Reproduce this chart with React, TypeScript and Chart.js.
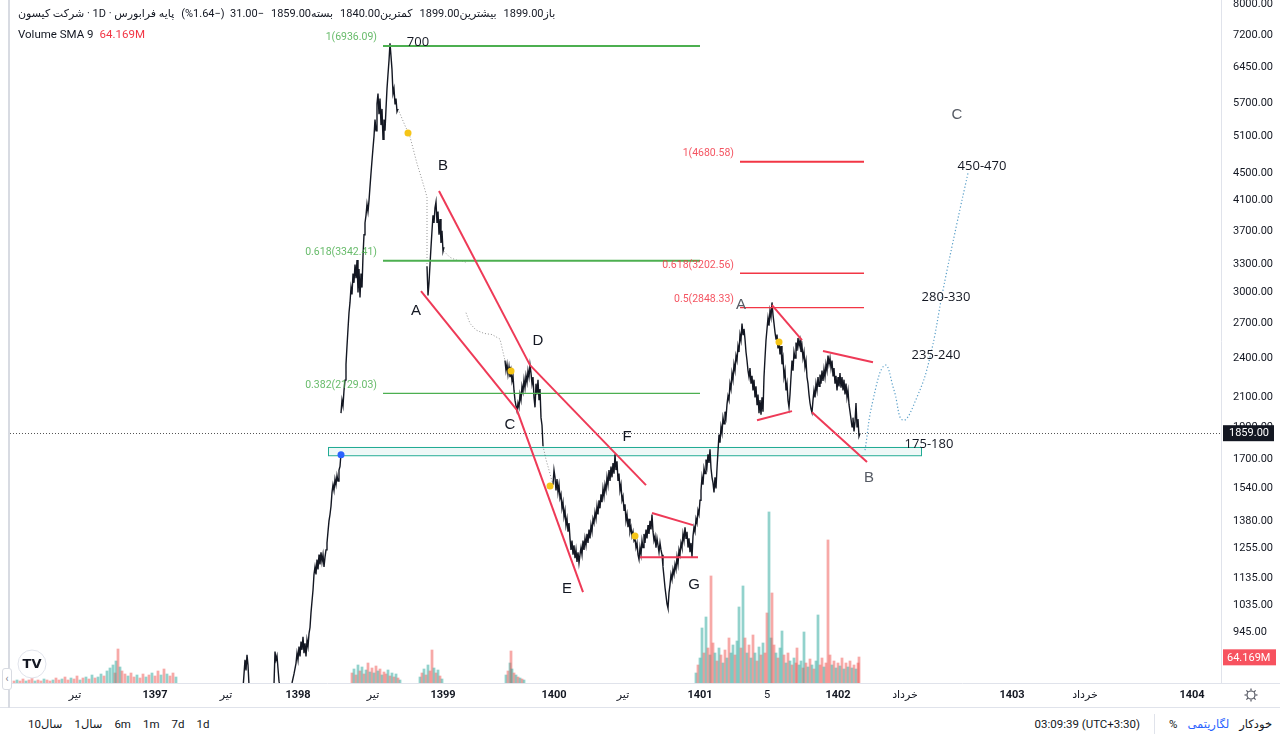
import React, { useEffect, useRef } from "react";
import { Chart, registerables } from "chart.js";

Chart.register(...registerables);

const FONT = "Roboto, 'DejaVu Sans', sans-serif";
const TEXT = "#131722";

// ---------- header texts ----------
const headerOhlc = ["باز1899.00", "بیشترین1899.00", "کمترین1840.00", "بسته1859.00"];
const headerChange = "(%1.64−)  31.00−";
const headerSymbol = "پایه فرابورس · 1D · شرکت کیسون";
const volumeLegend = "Volume SMA 9";
const volumeLegendValue = "64.169M";
const rangeButtons = ["10سال", "1سال", "6m", "1m", "7d", "1d"];
const clockText = "03:09:39 (UTC+3:30)";

// ---------- axes ----------
const yTicks = [8000, 7200, 6450, 5700, 5100, 4500, 4100, 3700, 3300, 3000, 2700, 2400, 2100, 1900, 1700, 1540, 1380, 1255, 1135, 1035, 945];
const xTickPos = [75, 155, 226, 298, 373, 443, 554, 623, 700, 767, 838, 905, 1012, 1085, 1192];
const xTickLabels = ["تیر", "1397", "تیر", "1398", "تیر", "1399", "1400", "تیر", "1401", "5", "1402", "خرداد", "1403", "خرداد", "1404"];
const xRange = [10, 1221];
const priceRange = [795, 8110];
const volRange = [0, 1707];

// ---------- price (bar index, price) ----------
const rally98a: [number, number][] = [[243, 780], [245, 860], [246, 830], [247, 875], [248, 845], [249, 790]];
const rally98b: [number, number][] = [[274, 790], [275, 885], [276, 860], [277, 872], [278, 835], [279, 800], [280, 785]];
const rally98c: [number, number][] = [[290, 780], [292, 795], [294, 820], [296, 850], [297, 880], [298, 860], [299, 900], [300, 870], [301, 915], [302, 890], [303, 930], [304, 880], [305, 910], [306, 870], [307, 920], [308, 900], [309, 940], [310, 960], [311, 1010], [312, 1050], [313, 1090], [314, 1150], [315, 1180], [316, 1150], [317, 1210], [318, 1170], [319, 1230], [320, 1190], [321, 1240], [322, 1200], [323, 1230], [324, 1180], [325, 1220], [326, 1250], [327, 1280], [328, 1330], [329, 1380], [330, 1410], [331, 1450], [332, 1520], [333, 1560], [334, 1530], [335, 1590], [336, 1560], [337, 1610], [338, 1580], [339, 1640], [340, 1660], [341, 1735]];
const rally98d: [number, number][] = [[341, 1990], [342, 2080], [343, 2040], [344, 2150], [345, 2227], [346, 2350], [347, 2500], [348, 2650], [349, 2800], [350, 2900], [351, 3050], [352, 2980], [353, 3200], [354, 3100], [355, 3300], [356, 3150], [357, 3350], [358, 3000], [359, 3250], [360, 2950], [361, 3200], [362, 3050], [363, 3400], [364, 3650], [365, 3800], [366, 3900], [367, 4050], [368, 3950], [369, 4100], [370, 4300], [371, 4500], [372, 4700], [373, 4900], [374, 5100], [375, 5400], [376, 5200], [377, 5700], [378, 5900], [379, 5500], [380, 5800], [381, 5300], [382, 5600], [383, 5050], [384, 5400], [385, 5200], [386, 5600], [387, 6000], [388, 6300], [389, 6600], [390, 7000], [391, 6700], [392, 6400], [393, 5900], [394, 6000], [395, 5700], [396, 5800], [397, 5550], [398, 5600]];
const swingAB: [number, number][] = [[427, 3280], [428, 2970], [429, 3100], [430, 3300], [431, 3500], [432, 3700], [433, 3900], [434, 3800], [435, 4000], [436, 4080], [437, 3800], [438, 3950], [439, 3650], [440, 3850], [441, 3550], [442, 3700], [443, 3450], [444, 3500]];
const swingCD: [number, number][] = [[505, 2380], [506, 2300], [507, 2350], [508, 2270], [509, 2330], [510, 2250], [511, 2300], [512, 2220], [513, 2260], [514, 2150], [515, 2080], [516, 2040], [517, 2005], [518, 2060], [519, 2030], [520, 2120], [521, 2080], [522, 2180], [523, 2140], [524, 2230], [525, 2170], [526, 2260], [527, 2210], [528, 2300], [529, 2250], [530, 2345], [531, 2280], [532, 2200], [533, 2250], [534, 2100], [535, 2030], [536, 2200], [537, 2120], [538, 2230], [539, 2080], [540, 2160], [541, 1960], [542, 1910], [543, 1780]];
const swingEFG: [number, number][] = [[553, 1560], [554, 1640], [555, 1600], [556, 1530], [557, 1590], [558, 1520], [559, 1560], [560, 1490], [561, 1510], [562, 1440], [563, 1470], [564, 1400], [565, 1430], [566, 1360], [567, 1390], [568, 1330], [569, 1370], [570, 1300], [571, 1250], [572, 1290], [573, 1230], [574, 1270], [575, 1215], [576, 1250], [577, 1200], [578, 1240], [579, 1195], [580, 1230], [581, 1260], [582, 1230], [583, 1290], [584, 1250], [585, 1300], [586, 1270], [587, 1320], [588, 1280], [589, 1340], [590, 1300], [591, 1360], [592, 1330], [593, 1390], [594, 1370], [595, 1420], [596, 1390], [597, 1450], [598, 1410], [599, 1480], [600, 1440], [601, 1510], [602, 1470], [603, 1540], [604, 1500], [605, 1560], [606, 1530], [607, 1600], [608, 1560], [609, 1640], [610, 1580], [611, 1660], [612, 1600], [613, 1680], [614, 1620], [615, 1730], [616, 1640], [617, 1690], [618, 1580], [619, 1620], [620, 1530], [621, 1560], [622, 1480], [623, 1500], [624, 1430], [625, 1460], [626, 1380], [627, 1410], [628, 1350], [629, 1390], [630, 1330], [631, 1350], [632, 1310], [633, 1330], [634, 1290], [635, 1300], [636, 1260], [637, 1280], [638, 1230], [639, 1210], [640, 1260], [641, 1230], [642, 1290], [643, 1260], [644, 1320], [645, 1280], [646, 1340], [647, 1300], [648, 1360], [649, 1320], [650, 1380], [651, 1340], [652, 1410], [653, 1330], [654, 1290], [655, 1310], [656, 1260], [657, 1300], [658, 1270], [659, 1240], [660, 1280], [661, 1250], [662, 1230], [663, 1180], [664, 1140], [665, 1100], [666, 1070], [667, 1040], [668, 1025], [669, 1080], [670, 1110], [671, 1150], [672, 1130], [673, 1170], [674, 1150], [675, 1190], [676, 1170], [677, 1220], [678, 1190], [679, 1250], [680, 1230], [681, 1280], [682, 1260], [683, 1320], [684, 1290], [685, 1350], [686, 1300], [687, 1330], [688, 1260], [689, 1300], [690, 1240], [691, 1280], [692, 1220], [693, 1310], [694, 1350], [695, 1330], [696, 1390], [697, 1370], [698, 1430], [699, 1410], [700, 1480], [701, 1530], [702, 1600], [703, 1560], [704, 1650], [705, 1620], [706, 1700], [707, 1660], [708, 1730], [709, 1680], [710, 1760], [711, 1650], [712, 1600], [713, 1570], [714, 1520], [715, 1600], [716, 1540], [717, 1650], [718, 1750], [719, 1850], [720, 1800], [721, 1900], [722, 1860], [723, 1960], [724, 1920], [725, 2000], [726, 1960], [727, 2050], [728, 2110], [729, 2080], [730, 2200], [731, 2160], [732, 2280], [733, 2230], [734, 2350], [735, 2300], [736, 2420], [737, 2380], [738, 2500], [739, 2450], [740, 2600], [741, 2550], [742, 2700], [743, 2600]];
const swing1402: [number, number][] = [[744, 2650], [745, 2560], [746, 2450], [747, 2380], [748, 2300], [749, 2250], [750, 2320], [751, 2200], [752, 2260], [753, 2150], [754, 2230], [755, 2100], [756, 2180], [757, 2050], [758, 2120], [759, 1990], [760, 2080], [761, 1980], [762, 2100], [763, 2000], [764, 2250], [765, 2400], [766, 2550], [767, 2650], [768, 2750], [769, 2680], [770, 2820], [771, 2760], [772, 2900], [773, 2780], [774, 2700], [775, 2620], [776, 2560], [777, 2600], [778, 2480], [779, 2550], [780, 2430], [781, 2500], [782, 2350], [783, 2400], [784, 2250], [785, 2300], [786, 2150], [787, 2200], [788, 2080], [789, 2030], [790, 2120], [791, 2250], [792, 2380], [793, 2300], [794, 2450], [795, 2400], [796, 2530], [797, 2460], [798, 2570], [799, 2500], [800, 2550], [801, 2450], [802, 2500], [803, 2400], [804, 2450], [805, 2330], [806, 2380], [807, 2250], [808, 2200], [809, 2120], [810, 2060], [811, 2020], [812, 1995], [813, 2080], [814, 2150], [815, 2100], [816, 2200], [817, 2150], [818, 2250], [819, 2180], [820, 2270], [821, 2200], [822, 2300], [823, 2220], [824, 2310], [825, 2250], [826, 2350], [827, 2300], [828, 2420], [829, 2350], [830, 2400], [831, 2320], [832, 2380], [833, 2260], [834, 2320], [835, 2200], [836, 2260], [837, 2150], [838, 2250], [839, 2180], [840, 2280], [841, 2170], [842, 2250], [843, 2150], [844, 2230], [845, 2120], [846, 2200], [847, 2100], [848, 2150], [849, 2050], [850, 2000], [851, 1950], [852, 1900], [853, 1960], [854, 1870], [855, 1930], [856, 2060], [857, 1900], [858, 1950], [859, 1840], [860, 1859]];

// thin limit-move stretches (drawn dotted)
const limitRun1: [number, number][] = [[398, 5600], [402, 5420], [406, 5250], [409, 5160], [413, 4900], [417, 4650], [421, 4450], [425, 4250], [427, 4150], [427, 3280]];
const limitRun2: [number, number][] = [[444, 3450], [450, 3380], [456, 3350], [462, 3340], [467, 3320]];
const limitRun3: [number, number][] = [[466, 2800], [470, 2700], [476, 2640], [484, 2610], [492, 2600], [500, 2560], [505, 2380]];
const limitRun4: [number, number][] = [[543, 1780], [546, 1700], [549, 1640], [553, 1560]];

// projected path
const projection: [number, number][] = [[865, 1755], [873, 2080], [885, 2343], [894, 2152], [903, 1943], [917, 2102], [930, 2408], [943, 3024], [957, 3799], [968, 4503]];

// ---------- volume (bar index, millions, up=1) ----------
const volEarly: [number, number, number][] = [[14, 5, 0], [17, 7.5, 1], [20, 5, 0], [23, 10, 0], [26, 5, 1], [29, 7.5, 0], [32, 12.5, 0], [35, 5, 1], [38, 7.5, 0], [41, 5, 0], [44, 10, 1], [47, 7.5, 0], [50, 5, 0], [53, 7.5, 1], [56, 12.5, 0], [59, 7.5, 0], [62, 10, 1], [65, 15, 0], [68, 7.5, 0], [71, 12.5, 1], [74, 10, 0], [77, 17.5, 0], [80, 7.5, 1], [83, 12.5, 0], [86, 15, 1], [89, 10, 0], [92, 20, 1], [95, 12.5, 0], [98, 15, 1], [101, 22.5, 1], [104, 17.5, 0], [107, 30, 1], [110, 37.5, 1], [113, 45, 1], [115, 25, 0], [116, 55, 1], [118, 85, 0], [120, 40, 1], [122, 30, 0], [125, 22.5, 0], [128, 17.5, 1], [131, 25, 0], [134, 15, 0], [137, 20, 1], [140, 12.5, 0], [143, 22.5, 0], [146, 15, 1], [149, 20, 0], [152, 25, 1], [155, 17.5, 0], [158, 30, 0], [161, 20, 1], [164, 35, 0], [167, 22.5, 1], [170, 17.5, 0], [173, 25, 0], [176, 15, 1]];
const vol1399: [number, number, number][] = [[352, 25, 0], [354, 35, 1], [356, 20, 0], [358, 45, 1], [360, 30, 0], [362, 40, 1], [364, 22.5, 0], [366, 32.5, 1], [368, 50, 0], [370, 27.5, 1], [372, 37.5, 0], [374, 25, 1], [376, 42.5, 0], [378, 30, 1], [380, 35, 0], [382, 20, 1], [384, 27.5, 0], [386, 22.5, 0], [388, 32.5, 1], [390, 17.5, 0], [392, 25, 1], [394, 15, 0], [396, 22.5, 1], [398, 12.5, 0], [400, 7.5, 1], [420, 15, 1], [422, 25, 0], [424, 35, 1], [426, 20, 0], [428, 45, 1], [430, 30, 0], [432, 82.5, 0], [434, 37.5, 1], [436, 25, 0], [438, 32.5, 1], [440, 17.5, 0], [442, 10, 1]];
const vol1400: [number, number, number][] = [[506, 20, 1], [508, 30, 0], [510, 50, 1], [511, 80, 0], [512, 35, 1], [514, 25, 0], [516, 20, 1], [518, 15, 0], [520, 12.5, 1], [522, 10, 0], [524, 7.5, 1]];
const vol1401: [number, number, number][] = [[696, 25, 1], [698, 45, 0], [700, 62.5, 1], [702, 137.5, 1], [704, 75, 0], [706, 165, 1], [708, 87.5, 0], [710, 70, 1], [711, 267.5, 0], [713, 100, 0], [715, 75, 1], [717, 55, 0], [719, 87.5, 1], [721, 70, 0], [723, 50, 1], [725, 82.5, 0], [727, 62.5, 1], [729, 112.5, 0], [731, 75, 1], [733, 95, 1], [735, 70, 0], [737, 105, 1], [739, 190, 1], [741, 87.5, 0], [743, 242.5, 1], [745, 112.5, 0], [747, 75, 1], [749, 95, 0], [751, 62.5, 1], [753, 120, 0], [755, 75, 1], [757, 55, 0], [759, 90, 1], [761, 70, 0], [763, 100, 1], [765, 75, 0], [767, 175, 0], [769, 427.5, 1], [771, 112.5, 1], [772, 225, 0], [774, 95, 0], [776, 75, 1], [778, 62.5, 0], [780, 87.5, 1], [782, 130, 1], [784, 70, 0], [786, 50, 1], [788, 75, 0], [790, 55, 1], [792, 45, 0], [794, 62.5, 1], [796, 50, 0], [797, 87.5, 0], [799, 45, 1], [801, 55, 1], [803, 37.5, 0], [804, 127.5, 1], [806, 50, 0], [808, 40, 1], [810, 60, 0], [812, 45, 1], [814, 35, 0], [816, 55, 1], [818, 170, 1], [820, 45, 0], [822, 62.5, 0], [824, 40, 1], [826, 50, 0], [828, 357.5, 0], [830, 70, 0], [832, 45, 1], [834, 55, 0], [836, 37.5, 1], [838, 50, 0], [840, 42.5, 1], [842, 62.5, 0], [844, 35, 1], [846, 50, 0], [848, 40, 1], [850, 55, 0], [852, 37.5, 1], [854, 45, 0], [856, 35, 1], [858, 50, 0], [859, 65, 0]];

// ---------- drawings ----------
const greenFib = [
  { label: "1(6936.09)", price: 6936.09 },
  { label: "0.618(3342.41)", price: 3342.41 },
  { label: "0.382(2129.03)", price: 2129.03 },
];
const greenFibSpan = [383, 700];
const redFib = [
  { label: "1(4680.58)", price: 4680.58 },
  { label: "0.618(3202.56)", price: 3202.56 },
  { label: "0.5(2848.33)", price: 2848.33 },
];
const redFibSpan = [740, 864];
const trendLines: [number, number, number, number][] = [
  [439, 4235, 530, 2343],
  [530, 2343, 646, 1558],
  [421, 3013, 517, 2011],
  [517, 2011, 583, 1083],
  [652, 1417, 693, 1360],
  [640, 1219, 698, 1219],
  [772, 2874, 802, 2551],
  [757, 1943, 792, 2004],
  [823, 2458, 873, 2367],
  [812, 1997, 867, 1685],
];
const waveLabels: [string, number, number, number][] = [["B", 443, 4611, 0], ["A", 416, 2816, 0], ["D", 538, 2543, 0], ["C", 510, 1911, 0], ["F", 627, 1834, 0], ["E", 567, 1094, 0], ["G", 694, 1109, 0], ["A", 741, 2874, 1], ["B", 869, 1595, 1], ["C", 957, 5484, 1]];
const targetLabels: [string, number, number][] = [["700", 418, 7030], ["450-470", 982, 4611], ["280-330", 946, 2953], ["235-240", 936, 2424], ["175-180", 929, 1791]];
const yellowDots: [number, number][] = [[408, 5159], [511, 2296], [550, 1553], [635, 1311], [779, 2534]];
const blueDot: [number, number] = [341, 1727];
const zone = { x0: 328, x1: 921, top: 1776, bottom: 1727 };
const lastPrice = 1859;
const volSma = 64.169;

const toPts = (run: [number, number][]) => run.map(([x, y]) => ({ x, y }));
const joinRuns = (runs: [number, number][][]) =>
  runs.flatMap((r) => [...toPts(r), { x: r[r.length - 1][0], y: null as any }]);

export default function App() {
  const ref = useRef<HTMLCanvasElement>(null);

  useEffect(() => {
    document.body.style.margin = "0";
    const allVol = [...volEarly, ...vol1399, ...vol1400, ...vol1401];
    const RED = "#f23645";
    const GREEN = "#4caf50";

    const drawPlugin = {
      id: "tvDrawings",
      beforeDatasetsDraw(chart: any) {
        const { ctx, chartArea: a, scales } = chart;
        const X = (v: number) => scales.x.getPixelForValue(v);
        const Y = (v: number) => scales.y.getPixelForValue(v);
        ctx.save();
        const bx0 = X(zone.x0), bx1 = X(zone.x1), by0 = Y(zone.top), by1 = Y(zone.bottom);
        ctx.fillStyle = "rgba(34,171,148,0.08)";
        ctx.fillRect(bx0, by0, bx1 - bx0, by1 - by0);
        ctx.strokeStyle = "#22ab94";
        ctx.lineWidth = 1;
        ctx.strokeRect(Math.round(bx0) + 0.5, Math.round(by0) + 0.5, bx1 - bx0, by1 - by0);
        ctx.strokeStyle = "#555";
        ctx.setLineDash([1, 2]);
        const ly = Math.round(Y(lastPrice)) + 0.5;
        ctx.beginPath();
        ctx.moveTo(a.left, ly);
        ctx.lineTo(a.right, ly);
        ctx.stroke();
        ctx.restore();
      },
      afterDatasetsDraw(chart: any) {
        const { ctx, scales } = chart;
        const X = (v: number) => scales.x.getPixelForValue(v);
        const Y = (v: number) => scales.y.getPixelForValue(v);
        ctx.save();
        const fib = (levels: any[], span: number[], color: string, widths: number[]) => {
          levels.forEach((l, i) => {
            const y = Y(l.price);
            ctx.strokeStyle = color;
            ctx.lineWidth = widths[i];
            ctx.beginPath();
            ctx.moveTo(X(span[0]), y);
            ctx.lineTo(X(span[1]), y);
            ctx.stroke();
            ctx.fillStyle = color;
            ctx.globalAlpha = 0.85;
            ctx.font = `10.5px ${FONT}`;
            ctx.textAlign = "right";
            ctx.textBaseline = "bottom";
            ctx.fillText(l.label, X(span[0]) - 6, y - 3);
            ctx.globalAlpha = 1;
          });
        };
        fib(greenFib, greenFibSpan, GREEN, [2, 2, 1.3]);
        fib(redFib, redFibSpan, RED, [2, 1.3, 1.3]);
        ctx.strokeStyle = "#ee3a57";
        ctx.lineWidth = 2;
        trendLines.forEach(([x0, p0, x1, p1]) => {
          ctx.beginPath();
          ctx.moveTo(X(x0), Y(p0));
          ctx.lineTo(X(x1), Y(p1));
          ctx.stroke();
        });
        yellowDots.forEach(([x, p]) => {
          ctx.fillStyle = "#f5c518";
          ctx.beginPath();
          ctx.arc(X(x), Y(p), 3.5, 0, Math.PI * 2);
          ctx.fill();
        });
        ctx.fillStyle = "#2962ff";
        ctx.beginPath();
        ctx.arc(X(blueDot[0]), Y(blueDot[1]), 3.5, 0, Math.PI * 2);
        ctx.fill();
        ctx.textAlign = "center";
        ctx.textBaseline = "middle";
        ctx.font = `15px 'Liberation Sans', Arial, sans-serif`;
        waveLabels.forEach(([t, x, p, g]) => {
          ctx.fillStyle = g ? "#555a63" : TEXT;
          ctx.fillText(t, X(x), Y(p));
        });
        ctx.font = `13px 'Open Sans', sans-serif`;
        ctx.fillStyle = TEXT;
        targetLabels.forEach(([t, x, p]) => ctx.fillText(t, X(x), Y(p)));
        ctx.restore();
      },
      afterDraw(chart: any) {
        const { ctx, chartArea: a, scales, width, height } = chart;
        const X = (v: number) => scales.x.getPixelForValue(v);
        const Y = (v: number) => scales.y.getPixelForValue(v);
        ctx.save();
        ctx.strokeStyle = "#e0e3eb";
        ctx.lineWidth = 1;
        ctx.beginPath();
        ctx.moveTo(a.right + 0.5, 0);
        ctx.lineTo(a.right + 0.5, a.bottom);
        ctx.moveTo(a.left, a.bottom + 0.5);
        ctx.lineTo(width, a.bottom + 0.5);
        ctx.moveTo(0, height - 0.5);
        ctx.lineTo(width, height - 0.5);
        ctx.stroke();
        ctx.strokeStyle = "#d8dbe2";
        ctx.lineWidth = 2;
        ctx.beginPath();
        ctx.moveTo(a.left - 1, 0);
        ctx.lineTo(a.left - 1, height);
        ctx.stroke();
        ctx.font = `11px ${FONT}`;
        ctx.fillStyle = TEXT;
        ctx.textAlign = "left";
        ctx.textBaseline = "middle";
        yTicks.forEach((v) => ctx.fillText(v.toFixed(2), a.right + 12, Y(v)));
        const py = Y(lastPrice);
        ctx.fillStyle = TEXT;
        ctx.fillRect(a.right + 2, py - 8, 51, 16);
        ctx.fillStyle = "#fff";
        ctx.fillText(lastPrice.toFixed(2), a.right + 8, py + 0.5);
        const vy = scales.vol.getPixelForValue(volSma);
        ctx.fillStyle = "#f7525f";
        ctx.fillRect(a.right + 2, vy - 8, 53, 16);
        ctx.fillStyle = "#fff";
        ctx.fillText(volumeLegendValue, a.right + 6, vy + 0.5);
        ctx.textAlign = "center";
        xTickPos.forEach((v, i) => {
          const lab = xTickLabels[i];
          const year = /^\d{4}$/.test(lab);
          ctx.font = `${year ? "bold " : ""}11px ${FONT}`;
          ctx.fillStyle = TEXT;
          ctx.fillText(lab, X(v), a.bottom + 12);
        });
        const gx = 1251, gy = a.bottom + 12;
        ctx.strokeStyle = "#50535e";
        ctx.lineWidth = 1.2;
        ctx.beginPath();
        ctx.arc(gx, gy, 4, 0, Math.PI * 2);
        ctx.stroke();
        for (let k = 0; k < 8; k++) {
          const an = (k * Math.PI) / 4;
          ctx.beginPath();
          ctx.moveTo(gx + Math.cos(an) * 4.5, gy + Math.sin(an) * 4.5);
          ctx.lineTo(gx + Math.cos(an) * 6.5, gy + Math.sin(an) * 6.5);
          ctx.stroke();
        }
        ctx.fillStyle = "#fff";
        ctx.strokeStyle = "#e0e3eb";
        ctx.lineWidth = 1;
        ctx.beginPath();
        ctx.arc(32, 664, 14, 0, Math.PI * 2);
        ctx.fill();
        ctx.stroke();
        ctx.fillStyle = TEXT;
        ctx.font = `900 13px 'DejaVu Sans', sans-serif`;
        ctx.textAlign = "center";
        ctx.fillText("TV", 32, 665);
        ctx.restore();
      },
    };

    const chart = new Chart(ref.current as HTMLCanvasElement, {
      type: "line",
      data: {
        datasets: [
          {
            type: "line",
            label: "price",
            data: joinRuns([rally98a, rally98b, rally98c, rally98d, swingAB, swingCD, [...swingEFG, ...swing1402]]),
            borderColor: "#131722",
            borderWidth: 1.4,
            pointRadius: 0,
            tension: 0,
            spanGaps: false,
            yAxisID: "y",
            order: 1,
          } as any,
          {
            type: "line",
            label: "limit",
            data: joinRuns([limitRun1, limitRun2, limitRun3, limitRun4]),
            borderColor: "rgba(60,60,60,0.55)",
            borderWidth: 1,
            borderDash: [1, 2],
            pointRadius: 0,
            tension: 0,
            spanGaps: false,
            yAxisID: "y",
            order: 2,
          } as any,
          {
            type: "line",
            label: "projection",
            data: toPts(projection),
            borderColor: "#5a9fc8",
            borderWidth: 1.2,
            borderDash: [1.2, 2.2],
            pointRadius: 0,
            tension: 0.45,
            yAxisID: "y",
            order: 3,
          } as any,
          {
            type: "bar",
            label: "volume",
            data: allVol.map(([x, v]) => ({ x, y: v })),
            backgroundColor: allVol.map(([, , u]) => (u ? "rgba(38,166,154,0.5)" : "rgba(239,83,80,0.5)")),
            borderWidth: 0,
            barThickness: 2.1,
            grouped: false,
            yAxisID: "vol",
            order: 10,
          } as any,
        ],
      },
      options: {
        animation: false,
        responsive: false,
        devicePixelRatio: 1,
        layout: { padding: { left: 10, top: 0, right: 0, bottom: 0 } },
        plugins: { legend: { display: false }, tooltip: { enabled: false } },
        events: [],
        scales: {
          x: {
            type: "linear",
            offset: false,
            min: xRange[0],
            max: xRange[1],
            grid: { display: false, drawTicks: false, offset: false },
            border: { display: false },
            ticks: { display: false },
            afterFit: (s: any) => { s.height = 25; },
          },
          y: {
            type: "logarithmic",
            position: "right",
            min: priceRange[0],
            max: priceRange[1],
            grid: { display: false, drawTicks: false },
            border: { display: false },
            ticks: { display: false },
            afterFit: (s: any) => { s.width = 59; },
          },
          vol: {
            type: "linear",
            display: false,
            min: volRange[0],
            max: volRange[1],
          },
        },
      } as any,
      plugins: [drawPlugin],
    });
    return () => chart.destroy();
  }, []);

  return (
    <div style={{ position: "fixed", left: 0, top: 0, width: 1280, height: 740, background: "#fff", overflow: "hidden", fontFamily: FONT, color: TEXT }}>
      <canvas ref={ref} width={1280} height={708} style={{ position: "absolute", left: 0, top: 0, width: 1280, height: 708 }} />
      <div style={{ position: "absolute", left: 18, top: 5, display: "flex", direction: "rtl", gap: 7, fontSize: 11, lineHeight: "17px", whiteSpace: "nowrap" }}>
        {headerOhlc.map((t, i) => (
          <span key={i}>{t}</span>
        ))}
        <bdo dir="ltr" style={{ whiteSpace: "pre" }}>{headerChange}</bdo>
        <span>{headerSymbol}</span>
      </div>
      <div style={{ position: "absolute", left: 18, top: 26, fontSize: 11.5, lineHeight: "16px", whiteSpace: "nowrap" }}>
        <span>{volumeLegend}</span>
        <span style={{ color: "#f23645", marginLeft: 6 }}>{volumeLegendValue}</span>
      </div>
      <div style={{ position: "absolute", left: 2, top: 668, width: 8, height: 20, border: "1px solid #d8dbe2", borderRadius: 3, background: "#fff", fontSize: 10, lineHeight: "20px", textAlign: "center", color: "#787b86" }}>‹</div>
      <div style={{ position: "absolute", left: 10, top: 708, width: 1270, height: 32, fontSize: 11.5, lineHeight: "32px", whiteSpace: "nowrap" }}>
        <div style={{ position: "absolute", left: 18, top: 0, display: "flex", gap: 12 }}>
          {rangeButtons.map((t, i) => (
            <span key={i}>{t}</span>
          ))}
        </div>
        <div style={{ position: "absolute", right: 8, top: 0, display: "flex", alignItems: "center", gap: 10 }}>
          <span>{clockText}</span>
          <span style={{ display: "inline-block", width: 1, height: 20, background: "#e0e3eb", margin: "0 4px" }} />
          <span>%</span>
          <span style={{ color: "#2962ff" }}>لگاریتمی</span>
          <span>خودکار</span>
        </div>
      </div>
    </div>
  );
}
